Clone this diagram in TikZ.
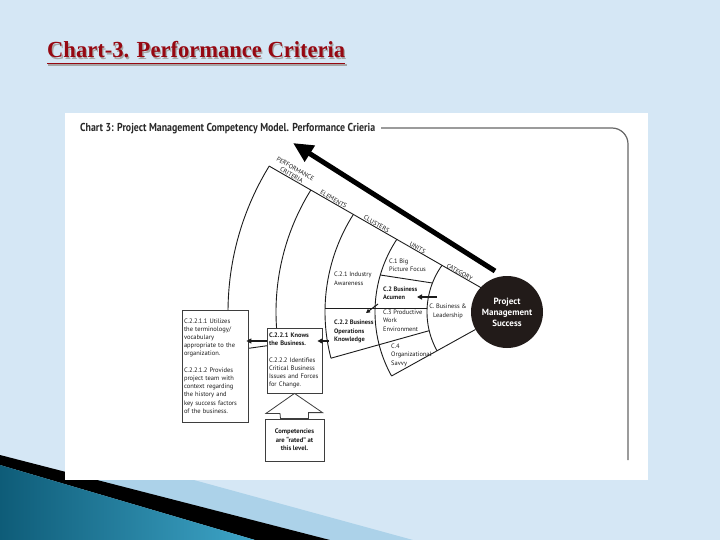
\documentclass[tikz,border=0pt]{standalone}
\usepackage{graphicx}
\usepackage{fontspec}
\setmainfont{PT Sans}
\newfontfamily\titlefont{Liberation Serif}
\usetikzlibrary{arrows.meta}
\definecolor{bg}{RGB}{213,231,245}
\definecolor{titlered}{RGB}{150,8,18}
\definecolor{ink}{RGB}{28,28,28}
\definecolor{circ}{RGB}{34,27,25}
\definecolor{hdr}{RGB}{40,40,40}
\definecolor{tealA}{RGB}{14,92,120}
\definecolor{tealB}{RGB}{62,165,200}
\definecolor{lightband}{RGB}{172,210,233}
\begin{document}
\begin{tikzpicture}[x=1pt,y=-1pt,
 fan/.style={draw=ink, line width=0.9pt},
 box/.style={draw=ink!85, line width=0.8pt, fill=white, inner sep=2pt, align=left, text=ink, font=\fontsize{6.5}{8.2}\selectfont},
 ftext/.style={inner sep=0pt, align=left, text=ink, font=\fontsize{6.4}{8.4}\selectfont},
 lbl/.style={inner sep=0.8pt, font=\fontsize{6.3}{7}\selectfont, text=ink, rotate=-29.8, anchor=south},
 sarrow/.style={draw=ink, line width=1.4pt, -{Triangle[length=5pt,width=5pt]}}]
\useasboundingbox (0,0) rectangle (720,540);
% background
\fill[bg] (0,0) rectangle (720,540);
% bottom-left decoration
\fill[lightband] (66,445) -- (413,540) -- (330,540) -- (66,472.8) -- cycle;
\fill[black] (0,455) -- (330,540) -- (255,540) -- (0,465) -- cycle;
\shade[left color=tealA, right color=tealB] (0,465) -- (255,540) -- (0,540) -- cycle;
% white panel
\fill[white] (65,113) rectangle (648,480);
% title
\node[anchor=base west, inner sep=0, text=gray!70] at (48.3,59.3) {\resizebox{298pt}{\height}{\titlefont\bfseries\fontsize{23}{24}\selectfont Chart-3. Performance Criteria}};
\node[anchor=base west, inner sep=0, text=titlered] (title) at (47,58) {\resizebox{298pt}{\height}{\titlefont\bfseries\fontsize{23}{24}\selectfont Chart-3. Performance Criteria}};
\draw[gray!70, line width=1.5pt] (48.3,64.8) -- ([xshift=1.3pt]title.east |- 0,64.8);
\draw[titlered, line width=1.5pt] (47,63.5) -- (title.east |- 0,63.5);
% header
\node[anchor=base west, inner sep=0, text=hdr] (hdr) at (80,131.5) {\resizebox{295pt}{\height}{\bfseries\fontsize{11.5}{12}\selectfont Chart 3: Project Management Competency Model. Performance Crieria}};
\draw[gray!80!black, line width=1.2pt, rounded corners=16pt] (381,128) -- (628,128) -- (628,460);
% fan arcs (centre 507,312)
\draw[fan] plot[domain=211.5:178, samples=60, variable=\t] ({507+279*cos(\t)},{312+279*sin(\t)});
\draw[fan] plot[domain=211.85:174, samples=60, variable=\t] ({507+231*cos(\t)},{312+231*sin(\t)});
\draw[fan] plot[domain=212.4:165.3, samples=60, variable=\t] ({507+182*cos(\t)},{312+182*sin(\t)});
\draw[fan] plot[domain=213.4:151, samples=60, variable=\t] ({507+132*cos(\t)},{312+132*sin(\t)});
\draw[fan] plot[domain=215.7:151, samples=60, variable=\t] ({507+80*cos(\t)},{312+80*sin(\t)});
% upper boundary line
\draw[fan] (269,166) -- (485,290);
% lower boundaries and dividers
\draw[fan] ({507+36*cos(151)},{312+36*sin(151)}) -- ({507+132*cos(151)},{312+132*sin(151)});
\draw[fan] ({507+80*cos(166.5)},{312+80*sin(166.5)}) -- ({507+182*cos(165.3)},{312+182*sin(165.3)});
\draw[fan] ({507+231*cos(172)},{312+231*sin(172)}) -- ({507+279*cos(172)},{312+279*sin(172)});
\draw[fan] (325,308) -- (427.1,308);
\draw[fan] (380.3,275) -- (432.4,283);
% boxes
\node[box, minimum width=66pt, minimum height=112pt, text width=62pt] (b1) at (215,366) {C.2.2.1.1 Utilizes\\the terminology/\\vocabulary\\appropriate to the\\organization.\\[8.2pt]C.2.2.1.2 Provides\\project team with\\context regarding\\the history and\\key success factors\\of the business.};
\node[box, minimum width=55pt, minimum height=65pt, text width=51pt] (b2) at (294.5,360.5) {\textbf{C.2.2.1 Knows}\\\textbf{the Business.}\\[8.2pt]C.2.2.2 Identifies\\Critical Business\\Issues and Forces\\for Change.};
\node[box, minimum width=59pt, minimum height=42pt, align=center, font=\bfseries\fontsize{6.6}{8.6}\selectfont] (b3) at (294.5,440) {Competencies\\are \textquotedblleft rated\textquotedblright\ at\\this level.};
% block arrow from b3 to b2
\draw[draw=ink!85, line width=0.8pt, fill=white] (b2.south) -- ++(-28.5,20) -- ++(14,0) -- ([xshift=-14pt]b3.north) -- ([xshift=14pt]b3.north) -- ++(0,-6) -- ++(14,0) -- cycle;
% small arrows
\coordinate (a1) at (329,341);
\draw[sarrow] (a1) -- ([xshift=-5pt]a1 -| b2.east);
\draw[sarrow] (a1 -| b2.west) -- ([xshift=-2pt]a1 -| b1.east);
\coordinate (a2) at (437,297);
\coordinate (a2t) at (417,297);
\draw[sarrow] (a2) -- (a2t);
\coordinate (a3) at (378,304);
\coordinate (a3t) at (366,313);
\draw[draw=ink, line width=1pt, -{Triangle[length=4pt,width=4pt]}] (a3) -- (a3t);
% central circle
\node[circle, fill=circ, minimum size=72pt, inner sep=0pt, text=white, align=center, font=\bfseries\fontsize{9}{11}\selectfont] (pms) at (507,312) {Project\\Management\\Success};
% big arrow
\coordinate (atail) at (495,271);
\coordinate (atip) at (293,143);
\draw[black, line width=5pt, -{Triangle[length=20pt,width=18pt]}] (atail) -- (atip);
% labels along the upper line
\node[lbl, align=center, font=\fontsize{6.3}{7.6}\selectfont] (lpc) at (290,178.2) {PERFORMANCE\\CRITERIA};
\node[lbl] (lel) at (332,202.2) {ELEMENTS};
\node[lbl] (lcl) at (375,226.9) {CLUSTERS};
\node[lbl] (lun) at (416,250.4) {UNITS};
\node[lbl] (lca) at (458,275.2) {CATEGORY};
% fan texts
\node[ftext, anchor=north west] (t1) at (389,258.5) {C.1 Big\\Picture Focus};
\node[ftext, anchor=north west, font=\bfseries\fontsize{6.4}{8.4}\selectfont] (t2) at (383,286.5) {C.2 Business\\Acumen};
\node[ftext, anchor=north west] (t3) at (383,309.5) {C.3 Productive\\Work\\Environment};
\node[ftext, anchor=north west] (t4) at (391,343.5) {C.4\\Organizational\\Savvy};
\node[ftext, anchor=north west] (t21) at (334,272) {C.2.1 Industry\\Awareness};
\node[ftext, anchor=north west, font=\bfseries\fontsize{6.4}{8.4}\selectfont] (t22) at (334,320) {C.2.2 Business\\Operations\\Knowledge};
\node[ftext, align=center] (tc) at (448,311.5) {C. Business \&\\Leadership};
\end{tikzpicture}
\end{document}
